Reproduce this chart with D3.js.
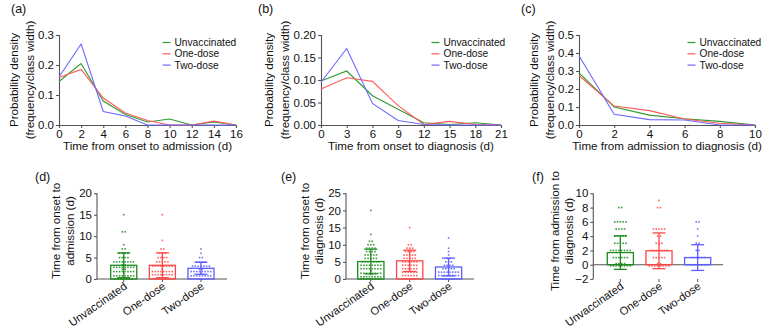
<!DOCTYPE html>
<html>
<head>
<meta charset="utf-8">
<script src="https://cdn.jsdelivr.net/npm/d3@7"></script>
<style>
  body { margin: 0; background: #fff; }
  svg { font-family: "Liberation Sans", Arial, sans-serif; }
</style>
</head>
<body>
<svg id="fig" width="770" height="333"></svg>
<script>
const groups = ["Unvaccinated", "One-dose", "Two-dose"];
const lineColors = ["#2f9a2f", "#ff5a5a", "#6a6aff"];
const barColors = ["#1b8a1b", "#ff4545", "#5c5cff"];

// (a) density, onset -> admission
const aX = [0, 2, 4, 6, 8, 10, 12, 14, 16];
const aUnvac = [0.145, 0.205, 0.080, 0.035, 0.010, 0.020, 0.000, 0.010, 0.000];
const aOne   = [0.158, 0.185, 0.090, 0.040, 0.015, 0.000, 0.000, 0.013, 0.000];
const aTwo   = [0.160, 0.270, 0.045, 0.030, 0.000, 0.000, 0.000, 0.000, 0.000];

// (b) density, onset -> diagnosis
const bX = [0, 3, 6, 9, 12, 15, 18, 21];
const bUnvac = [0.098, 0.120, 0.065, 0.035, 0.005, 0.001, 0.005, 0.000];
const bOne   = [0.080, 0.105, 0.097, 0.043, 0.001, 0.008, 0.001, 0.000];
const bTwo   = [0.095, 0.170, 0.048, 0.010, 0.001, 0.000, 0.000, 0.000];

// (c) density, admission -> diagnosis
const cX = [0, 2, 4, 6, 8, 10];
const cUnvac = [0.290, 0.100, 0.055, 0.035, 0.020, 0.000];
const cOne   = [0.275, 0.105, 0.080, 0.033, 0.010, 0.000];
const cTwo   = [0.385, 0.060, 0.030, 0.028, 0.000, 0.000];

// (d) onset -> admission, mean, SD and counts of patients per day
const dMeans = [3.2, 3.2, 2.5];
const dSD = [2.9, 2.9, 1.4];
const dValues = [0, 1, 2, 3, 4, 5, 6, 7, 8, 9, 11, 15];
const dUnvac = [7, 9, 10, 10, 8, 4, 4, 2, 1, 0, 2, 1];
const dOne   = [7, 8, 9, 8, 5, 4, 3, 2, 0, 1, 0, 1];
const dTwo   = [2, 9, 10, 7, 4, 2, 1, 1, 0, 0, 0, 0];

// (e) onset -> diagnosis
const eMeans = [5.1, 5.3, 3.5];
const eSD = [3.6, 3.1, 2.6];
const eValues = [0, 1, 2, 3, 4, 5, 6, 7, 8, 9, 10, 11, 12, 13, 15, 20];
const eUnvac = [8, 9, 9, 8, 8, 7, 5, 5, 4, 4, 3, 2, 0, 1, 0, 1];
const eOne   = [5, 6, 6, 6, 6, 6, 5, 5, 4, 3, 2, 0, 0, 0, 1, 0];
const eTwo   = [5, 8, 8, 5, 4, 3, 2, 1, 1, 1, 0, 0, 1, 0, 0, 0];

// (f) admission -> diagnosis
const fMeans = [1.7, 1.95, 1.0];
const fSD = [2.35, 2.5, 1.8];
const fValues = [0, 1, 2, 3, 4, 5, 6, 8, 9];
const fUnvac = [12, 6, 8, 5, 5, 4, 5, 2, 0];
const fOne   = [10, 5, 7, 3, 2, 5, 0, 2, 1];
const fTwo   = [8, 6, 2, 2, 1, 1, 2, 0, 0];

const svg = d3.select("#fig");
const axisColor = "#555";

function styleAxis(g) {
  g.selectAll("path, line").attr("stroke", axisColor).attr("stroke-width", 1.1);
  g.selectAll("text").attr("fill", "#111").style("font-size", "11.5px")
    .style("font-family", "'Liberation Sans', Arial, sans-serif");
}

function panelLabel(text, x, y) {
  svg.append("text").attr("x", x).attr("y", y).attr("font-size", 12.5).attr("fill", "#111").text(text);
}

function density(cfg) {
  const x = d3.scaleLinear().domain([0, cfg.xs[cfg.xs.length - 1]]).range([cfg.left, cfg.right]);
  const y = d3.scaleLinear().domain([0, cfg.yMax]).range([125, 35]);
  const g = svg.append("g");

  g.append("g").attr("transform", "translate(0,125)")
    .call(d3.axisBottom(x).tickValues(cfg.xs).tickSize(3).tickPadding(2).tickFormat(d3.format("d")))
    .call(styleAxis);
  g.append("g").attr("transform", `translate(${cfg.left},0)`)
    .call(d3.axisLeft(y).tickValues(cfg.yTicks).tickSize(3).tickPadding(2).tickFormat(d3.format(cfg.fmt)))
    .call(styleAxis);

  const line = d3.line().x((d, i) => x(cfg.xs[i])).y(d => y(d));
  cfg.series.forEach((s, k) => {
    g.append("path").datum(s).attr("fill", "none")
      .attr("stroke", lineColors[k]).attr("stroke-width", 1.1).attr("d", line);
  });

  // legend
  groups.forEach((name, k) => {
    const ly = 42.5 + k * 11.3;
    g.append("line").attr("x1", cfg.legendX).attr("x2", cfg.legendX + 8)
      .attr("y1", ly).attr("y2", ly).attr("stroke", lineColors[k]).attr("stroke-width", 1.2);
    g.append("text").attr("x", cfg.legendX + 12).attr("y", ly).attr("dy", "0.35em")
      .attr("font-size", 10.2).attr("fill", "#111").text(name);
  });

  g.append("text").attr("x", (cfg.left + cfg.right) / 2).attr("y", 150)
    .attr("text-anchor", "middle").attr("font-size", 11.6).attr("fill", "#111").text(cfg.xTitle);

  ["Probability density", "(frequency/class width)"].forEach((t, i) => {
    g.append("text").attr("transform", `translate(${cfg.left - cfg.yTitleOff[i]},80) rotate(-90)`)
      .attr("text-anchor", "middle").attr("font-size", 11.6).attr("fill", "#111").text(t);
  });
  panelLabel(cfg.label, cfg.labelX, 12.5);
}

function barPanel(cfg) {
  const y = d3.scaleLinear().domain(cfg.yDomain).range([279, 193.3]);
  const x = d3.scaleBand().domain(groups).range(cfg.bars).paddingInner(0.325).paddingOuter(0);
  const g = svg.append("g");
  const zeroY = y(0);

  // y axis
  g.append("g").attr("transform", `translate(${cfg.axisX},0)`)
    .call(d3.axisLeft(y).tickValues(cfg.yTicks).tickSize(3).tickPadding(2).tickFormat(d3.format("d")))
    .call(styleAxis)
    .call(a => a.select(".domain").remove())
    .call(a => a.append("line").attr("y1", y(cfg.yDomain[0])).attr("y2", y(cfg.yDomain[1]))
      .attr("stroke", axisColor).attr("stroke-width", 1.1));

  // x axis line at zero, ticks at the bottom
  g.append("line").attr("x1", cfg.axisX).attr("x2", cfg.axisEnd).attr("y1", zeroY).attr("y2", zeroY)
    .attr("stroke", axisColor).attr("stroke-width", 1.1);
  groups.forEach(name => {
    const cx = x(name) + x.bandwidth() / 2;
    g.append("line").attr("x1", cx).attr("x2", cx).attr("y1", 279).attr("y2", 282)
      .attr("stroke", axisColor).attr("stroke-width", 1);
    g.append("text").attr("transform", `translate(${cx + 4},${288}) rotate(-35)`)
      .attr("text-anchor", "end").attr("font-size", 11.2).attr("fill", "#111").text(name);
  });

  cfg.counts.forEach((counts, k) => {
    const name = groups[k];
    const x0 = x(name), w = x.bandwidth(), cx = x0 + w / 2;
    const col = barColors[k];
    const mean = cfg.means[k], sd = cfg.sd[k];
    g.append("rect").attr("x", x0).attr("width", w)
      .attr("y", y(mean)).attr("height", zeroY - y(mean))
      .attr("fill", "none").attr("stroke", col).attr("stroke-width", 1.3);

    // individual points
    const pts = [];
    const perRow = 8, dx = 2.8, dy = 2.3;
    cfg.values.forEach((v, i) => {
      const n = counts[i];
      const rows = Math.ceil(n / perRow);
      for (let r = 0; r < rows; r++) {
        const m = Math.min(perRow, n - r * perRow);
        for (let j = 0; j < m; j++) {
          pts.push([cx + (j - (m - 1) / 2) * dx, y(v) - (r - (rows - 1) / 2) * dy]);
        }
      }
    });
    g.append("g").selectAll("rect").data(pts).join("rect")
      .attr("x", d => d[0] - 0.8).attr("y", d => d[1] - 0.8)
      .attr("width", 1.6).attr("height", 1.6).attr("fill", col).attr("opacity", 0.85);

    // error bar
    const cap = 6.5;
    g.append("line").attr("x1", cx).attr("x2", cx).attr("y1", y(mean + sd)).attr("y2", y(mean - sd))
      .attr("stroke", col).attr("stroke-width", 1.3);
    [mean + sd, mean - sd].forEach(v => {
      g.append("line").attr("x1", cx - cap).attr("x2", cx + cap).attr("y1", y(v)).attr("y2", y(v))
        .attr("stroke", col).attr("stroke-width", 1.3);
    });
  });

  cfg.yTitle.forEach((t, i) => {
    g.append("text").attr("transform", `translate(${cfg.axisX - cfg.yTitleOff[i]},231) rotate(-90)`)
      .attr("text-anchor", "middle").attr("font-size", 11.6).attr("fill", "#111").text(t);
  });
  panelLabel(cfg.label, cfg.labelX, 181);
}

density({ label: "(a)", labelX: 11, left: 59, right: 236, xs: aX, yMax: 0.3,
  yTicks: [0, 0.1, 0.2, 0.3], fmt: ".1f", series: [aUnvac, aOne, aTwo], legendX: 162.5,
  xTitle: "Time from onset to admission (d)", yTitleOff: [41, 25] });
density({ label: "(b)", labelX: 258, left: 321, right: 501, xs: bX, yMax: 0.2,
  yTicks: [0, 0.05, 0.1, 0.15, 0.2], fmt: ".2f", series: [bUnvac, bOne, bTwo], legendX: 431.5,
  xTitle: "Time from onset to diagnosis (d)", yTitleOff: [48, 32] });
density({ label: "(c)", labelX: 521, left: 579, right: 755, xs: cX, yMax: 0.5,
  yTicks: [0, 0.1, 0.2, 0.3, 0.4, 0.5], fmt: ".1f", series: [cUnvac, cOne, cTwo], legendX: 687.5,
  xTitle: "Time from admission to diagnosis (d)", yTitleOff: [41, 25] });

barPanel({ label: "(d)", labelX: 35, axisX: 97, axisEnd: 227, bars: [110.7, 214], yDomain: [0, 20],
  yTicks: [0, 5, 10, 15, 20], means: dMeans, sd: dSD, values: dValues, counts: [dUnvac, dOne, dTwo],
  yTitle: ["Time from onset to", "admission (d)"], yTitleOff: [37, 23] });
barPanel({ label: "(e)", labelX: 281, axisX: 346, axisEnd: 474, bars: [357.7, 461.7], yDomain: [0, 25],
  yTicks: [0, 5, 10, 15, 20, 25], means: eMeans, sd: eSD, values: eValues, counts: [eUnvac, eOne, eTwo],
  yTitle: ["Time from onset to", "diagnosis (d)"], yTitleOff: [37, 23] });
barPanel({ label: "(f)", labelX: 532, axisX: 593.3, axisEnd: 723, bars: [607.3, 710.7], yDomain: [-2, 10],
  yTicks: [-2, 0, 2, 4, 6, 8, 10], means: fMeans, sd: fSD, values: fValues, counts: [fUnvac, fOne, fTwo],
  yTitle: ["Time from admission to", "diagnosis (d)"], yTitleOff: [34, 20] });
</script>
</body>
</html>
